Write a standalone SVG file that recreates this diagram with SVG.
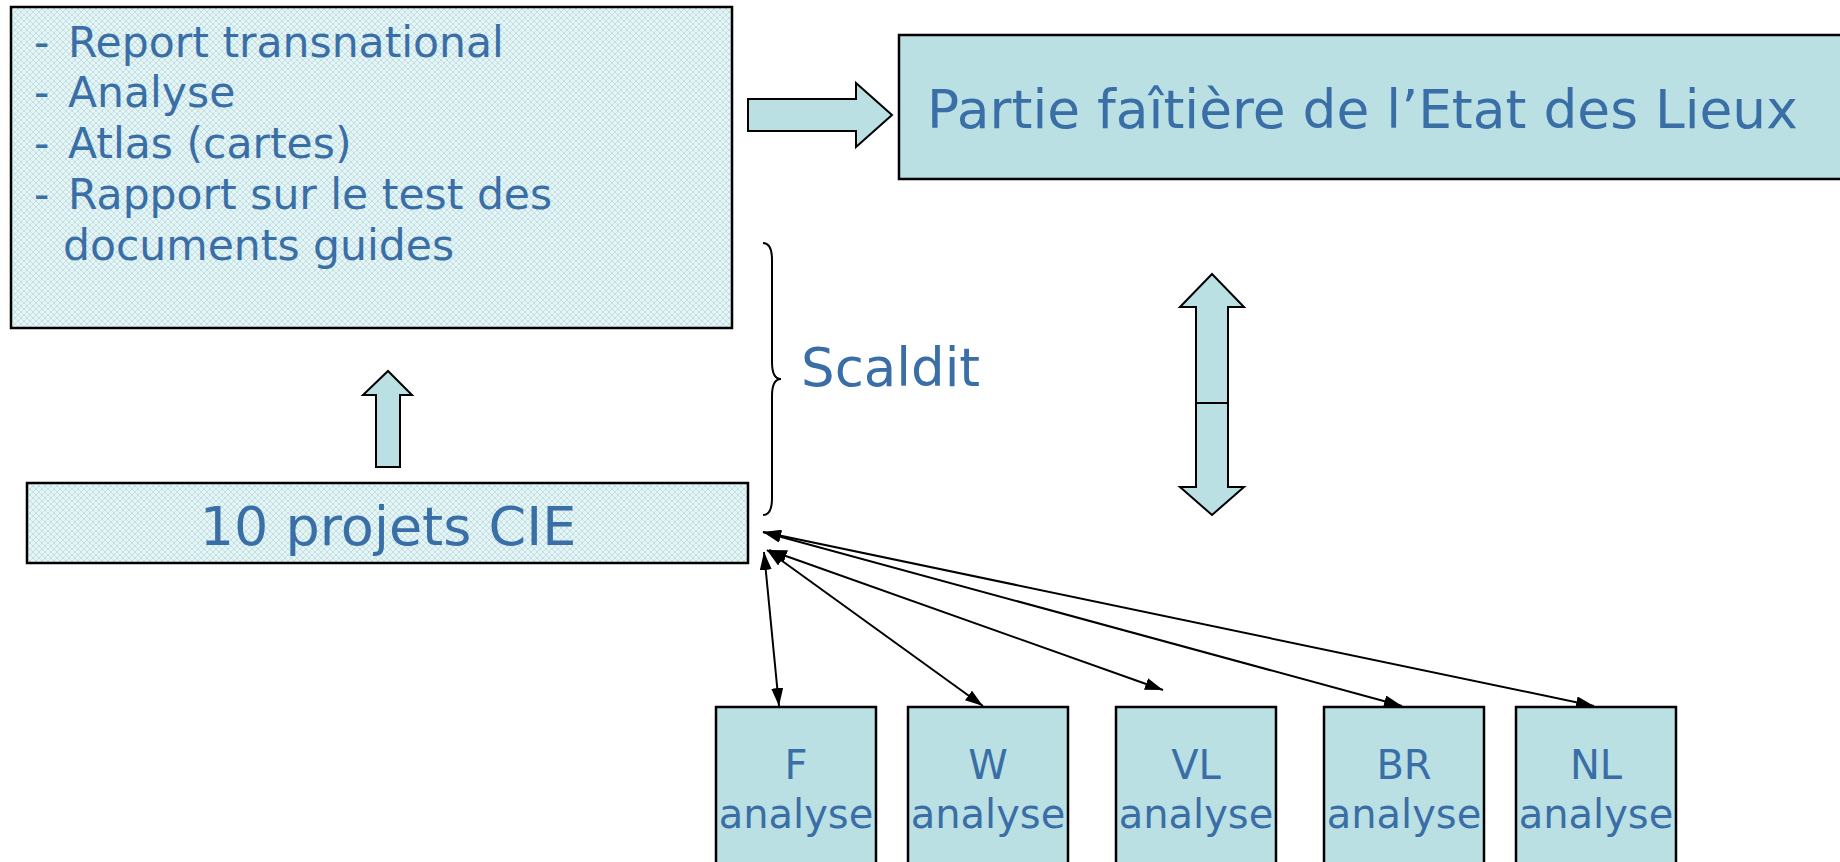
<svg xmlns="http://www.w3.org/2000/svg" width="1840" height="862" viewBox="0 0 1840 862">
<defs>
<pattern id="hatch" width="6" height="6" patternUnits="userSpaceOnUse">
<rect width="6" height="6" fill="#e6f4f5"/>
<path d="M0,3 L3,0 L6,3 L3,6 Z" fill="none" stroke="#bfe1e4" stroke-width="1"/>
</pattern>
<marker id="ah" viewBox="0 0 18 12" refX="18" refY="6" markerWidth="9" markerHeight="6" orient="auto-start-reverse" markerUnits="strokeWidth">
<path d="M0,0 L18,6 L0,12 Z" fill="#000"/>
</marker>
</defs>
<style>
.box{stroke:#000;stroke-width:2.5}
.solid{fill:#bae0e3}
.hat{fill:url(#hatch)}
.shape{fill:#bae0e3;stroke:#000;stroke-width:2;stroke-linejoin:miter}
.t{font-family:"DejaVu Sans",Verdana,sans-serif;fill:#3a6ea7}
.conn{stroke:#000;stroke-width:2;fill:none}
</style>

<g id="node-outputs">
<rect class="box hat" x="11" y="7" width="721" height="321"/>
<text class="t" font-size="42.5" y="57"><tspan x="34">-</tspan><tspan x="68">Report transnational</tspan></text>
<text class="t" font-size="42.5" y="107"><tspan x="34">-</tspan><tspan x="68">Analyse</tspan></text>
<text class="t" font-size="42.5" y="158"><tspan x="34">-</tspan><tspan x="68">Atlas (cartes)</tspan></text>
<text class="t" font-size="42.5" y="209"><tspan x="34">-</tspan><tspan x="68">Rapport sur le test des</tspan></text>
<text class="t" font-size="42.5" x="63" y="260">documents guides</text>
</g>

<g id="node-partie">
<rect class="box solid" x="899" y="35" width="945" height="144"/>
<text class="t" font-size="53.4" x="927" y="128">Partie faîtière de l’Etat des Lieux</text>
</g>

<g id="node-projets">
<rect class="box hat" x="27" y="483" width="721" height="80"/>
<text class="t" font-size="54" x="388" y="545" text-anchor="middle">10 projets CIE</text>
</g>

<g id="node-scaldit">
<path class="conn" d="M763,243 Q772,243 772,260 L772,362 Q772,379 781,379 Q772,379 772,396 L772,498 Q772,515 763,515"/>
<text class="t" font-size="53" x="801" y="386">Scaldit</text>
</g>

<g id="node-F">
<rect class="box solid" x="716" y="707" width="160" height="160"/>
<text class="t" font-size="40" x="796" y="779" text-anchor="middle">F</text>
<text class="t" font-size="40" x="796" y="828" text-anchor="middle">analyse</text>
</g>
<g id="node-W">
<rect class="box solid" x="908" y="707" width="160" height="160"/>
<text class="t" font-size="40" x="988" y="779" text-anchor="middle">W</text>
<text class="t" font-size="40" x="988" y="828" text-anchor="middle">analyse</text>
</g>
<g id="node-VL">
<rect class="box solid" x="1116" y="707" width="160" height="160"/>
<text class="t" font-size="40" x="1196" y="779" text-anchor="middle">VL</text>
<text class="t" font-size="40" x="1196" y="828" text-anchor="middle">analyse</text>
</g>
<g id="node-BR">
<rect class="box solid" x="1324" y="707" width="160" height="160"/>
<text class="t" font-size="40" x="1404" y="779" text-anchor="middle">BR</text>
<text class="t" font-size="40" x="1404" y="828" text-anchor="middle">analyse</text>
</g>
<g id="node-NL">
<rect class="box solid" x="1516" y="707" width="160" height="160"/>
<text class="t" font-size="40" x="1596" y="779" text-anchor="middle">NL</text>
<text class="t" font-size="40" x="1596" y="828" text-anchor="middle">analyse</text>
</g>

<g id="connectors">
<polygon class="shape" points="748,99 856,99 856,83 892,115 856,147 856,131 748,131"/>
<polygon class="shape" points="376,467 376,395 363,395 388,371 412,395 400,395 400,467"/>
<polygon class="shape" points="1212,274 1244,307 1228,307 1228,487 1244,487 1212,515 1180,487 1196,487 1196,307 1180,307"/>
<line class="conn" x1="1196" y1="403" x2="1228" y2="403"/>
<line class="conn" x1="764" y1="552" x2="779" y2="706" marker-start="url(#ah)" marker-end="url(#ah)"/>
<line class="conn" x1="767" y1="550" x2="983" y2="706" marker-start="url(#ah)" marker-end="url(#ah)"/>
<line class="conn" x1="769" y1="550" x2="1163" y2="690" marker-start="url(#ah)" marker-end="url(#ah)"/>
<line class="conn" x1="763" y1="532" x2="1402" y2="706" marker-start="url(#ah)" marker-end="url(#ah)"/>
<line class="conn" x1="763" y1="532" x2="1594" y2="706" marker-start="url(#ah)" marker-end="url(#ah)"/>
</g>
</svg>
